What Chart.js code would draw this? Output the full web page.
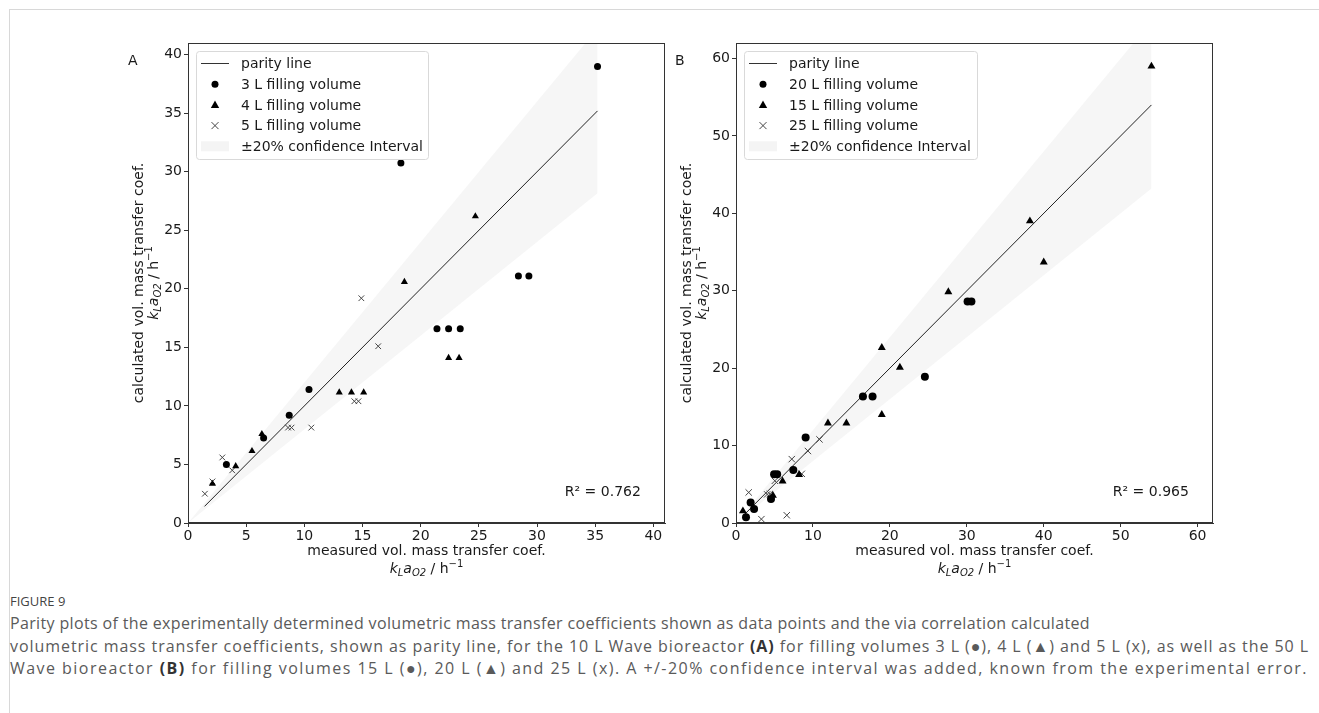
<!DOCTYPE html>
<html>
<head>
<meta charset="utf-8">
<script src="https://cdn.jsdelivr.net/npm/chart.js@4.4.0/dist/chart.umd.min.js"></script>
<style>
  body { margin: 0; background: #fff; width: 1319px; height: 713px; overflow: hidden; position: relative; }
  #frame { position: absolute; left: 9px; top: 9px; width: 1400px; height: 800px; border: 1.5px solid #d8d8d8; }
  #boxA { position: absolute; left: 0; top: 0; width: 670px; height: 590px; }
  #boxB { position: absolute; left: 670px; top: 0; width: 600px; height: 590px; }
  #cap { position: absolute; left: 10px; top: 591px; font-family: "Open Sans", sans-serif; color: #5a5a5a; white-space: nowrap; }
  #cap .fig { font-size: 13px; color: #444; height: 21px; line-height: 21px; }
  #cap .ln { font-size: 16px; line-height: 22.5px; height: 22.5px; display: table; }
  #cap b { color: #333; }
</style>
</head>
<body>
<div id="frame"></div>
<div id="boxA"><canvas id="chartA"></canvas></div>
<div id="boxB"><canvas id="chartB"></canvas></div>
<div id="cap">
  <div class="fig">FIGURE 9</div>
  <div class="ln" data-w="1080">Parity plots of the experimentally determined volumetric mass transfer coefficients shown as data points and the via correlation calculated</div>
  <div class="ln" data-w="1299">volumetric mass transfer coefficients, shown as parity line, for the 10 L Wave bioreactor <b>(A)</b> for filling volumes 3 L (&#9679;), 4 L (&#9650;) and 5 L (x), as well as the 50 L</div>
  <div class="ln" data-w="1298">Wave bioreactor <b>(B)</b> for filling volumes 15 L (&#9679;), 20 L (&#9650;) and 25 L (x). A +/-20% confidence interval was added, known from the experimental error.</div>
</div>
<script>
// panel A (10 L Wave bioreactor)
var a3x = [3.3, 6.5, 8.7, 10.4, 18.3, 21.4, 22.4, 23.4, 28.4, 29.3, 35.2];
var a3y = [5.0, 7.25, 9.2, 11.4, 30.75, 16.6, 16.6, 16.6, 21.1, 21.1, 39.0];
var a4x = [2.1, 4.1, 5.5, 6.35, 13.0, 14.05, 15.1, 18.6, 22.4, 23.3, 24.7];
var a4y = [3.35, 4.85, 6.15, 7.6, 11.15, 11.15, 11.15, 20.6, 14.1, 14.1, 26.2];
var a5x = [1.45, 2.1, 2.95, 3.8, 8.6, 8.9, 10.6, 14.3, 14.65, 14.9, 16.35];
var a5y = [2.5, 3.55, 5.6, 4.5, 8.15, 8.15, 8.15, 10.4, 10.4, 19.2, 15.1];
var parityA = [1.42, 35.2];
var ticksA = [0, 5, 10, 15, 20, 25, 30, 35, 40];
var limA = 41;

// panel B (50 L Wave bioreactor)
var b20x = [1.3, 1.9, 2.35, 4.55, 4.95, 5.35, 7.45, 9.05, 16.5, 17.75, 24.55, 30.1, 30.6];
var b20y = [0.75, 2.65, 1.8, 3.1, 6.3, 6.3, 6.85, 11.05, 16.35, 16.35, 18.9, 28.6, 28.6];
var b15x = [0.9, 4.8, 6.05, 8.2, 11.95, 14.35, 18.95, 18.95, 21.3, 27.6, 38.2, 40.0, 54.0];
var b15y = [1.55, 3.55, 5.4, 6.25, 12.9, 12.9, 22.65, 14.0, 20.1, 29.85, 39.0, 33.7, 59.0];
var b25x = [1.65, 3.3, 4.05, 4.4, 5.05, 6.6, 7.25, 8.55, 9.35, 10.85];
var b25y = [3.95, 0.5, 3.7, 3.75, 5.45, 1.0, 8.25, 6.35, 9.3, 10.8];
var parityB = [0.9, 54.0];
var ticksB = [0, 10, 20, 30, 40, 50, 60];
var limB = 62;

var FONT = '"DejaVu Sans", sans-serif';

// stretch caption lines to the widths of the original figure
document.querySelectorAll('#cap .ln').forEach(function (el) {
  var w = el.getBoundingClientRect().width;
  var n = el.textContent.length;
  el.style.letterSpacing = ((+el.dataset.w - w) / n) + 'px';
});

function pts(xs, ys) {
  return xs.map(function (x, i) { return { x: x, y: ys[i] }; });
}

function drawParts(ctx, parts, cx, y) {
  var w = 0;
  parts.forEach(function (p) { ctx.font = p.f; w += ctx.measureText(p.t).width; });
  var x = cx - w / 2;
  parts.forEach(function (p) {
    ctx.font = p.f;
    ctx.fillText(p.t, x, y + p.dy);
    x += ctx.measureText(p.t).width;
  });
}

var klaParts = [
  { t: 'k', f: 'italic 14px ' + FONT, dy: 0 },
  { t: 'L', f: 'italic 10px ' + FONT, dy: 3 },
  { t: 'a', f: 'italic 14px ' + FONT, dy: 0 },
  { t: 'O2', f: 'italic 10px ' + FONT, dy: 3 },
  { t: ' / h', f: '14px ' + FONT, dy: 0 },
  { t: '\u22121', f: '10px ' + FONT, dy: -6 }
];

function makeDecor(cfg) {
  return {
    id: 'decor',
    afterDraw: function (chart) {
      var ctx = chart.ctx, a = chart.chartArea;
      ctx.save();
      // spines
      ctx.strokeStyle = '#333';
      ctx.lineWidth = 1;
      ctx.strokeRect(a.left + 0.5, a.top + 0.5, a.right - a.left - 1, a.bottom - a.top - 1);
      ctx.fillStyle = '#1a1a1a';
      ctx.textBaseline = 'alphabetic';
      // panel letter
      ctx.font = '14px ' + FONT;
      ctx.textAlign = 'left';
      ctx.fillText(cfg.letter, cfg.letterX, 65);
      // R2
      ctx.fillText(cfg.r2, a.left + 0.79 * (a.right - a.left), a.bottom - 27);
      // x title
      var cx = (a.left + a.right) / 2;
      ctx.textAlign = 'center';
      ctx.fillText('measured vol. mass transfer coef.', cx, 555);
      ctx.textAlign = 'left';
      drawParts(ctx, klaParts, cx, 573);
      // y title
      var cy = (a.top + a.bottom) / 2;
      ctx.save();
      ctx.translate(a.left - 45, cy);
      ctx.rotate(-Math.PI / 2);
      ctx.textAlign = 'center';
      ctx.font = '14px ' + FONT;
      ctx.fillText('calculated vol. mass transfer coef.', 0, 0);
      ctx.restore();
      ctx.save();
      ctx.translate(a.left - 30, cy);
      ctx.rotate(-Math.PI / 2);
      ctx.textAlign = 'left';
      drawParts(ctx, klaParts, 0, 0);
      ctx.restore();
      // legend
      var lx = a.left + 8, ly = a.top + 8, lw = cfg.legendW, lh = 108;
      ctx.fillStyle = 'rgba(255,255,255,0.85)';
      ctx.strokeStyle = '#d9d9d9';
      ctx.beginPath();
      ctx.roundRect(lx + 0.5, ly + 0.5, lw, lh, 3);
      ctx.fill();
      ctx.stroke();
      var rows = cfg.legend;
      for (var i = 0; i < rows.length; i++) {
        var ry = ly + 12.5 + i * 20.7;
        var hx = lx + 19;
        ctx.fillStyle = '#000';
        ctx.strokeStyle = '#333';
        ctx.lineWidth = 1;
        ctx.beginPath();
        if (rows[i].kind === 'line') {
          ctx.moveTo(lx + 5, ry); ctx.lineTo(lx + 33, ry); ctx.stroke();
        } else if (rows[i].kind === 'band') {
          ctx.fillStyle = 'rgba(211,211,211,0.25)';
          ctx.fillRect(lx + 5, ry - 5, 28, 10);
        } else if (rows[i].kind === 'circle') {
          ctx.arc(hx, ry, 3.5, 0, Math.PI * 2); ctx.fill();
        } else if (rows[i].kind === 'triangle') {
          ctx.moveTo(hx, ry - 4.5); ctx.lineTo(hx + 4.2, ry + 3); ctx.lineTo(hx - 4.2, ry + 3); ctx.closePath(); ctx.fill();
        } else {
          ctx.strokeStyle = '#444';
          ctx.moveTo(hx - 3.5, ry - 3.5); ctx.lineTo(hx + 3.5, ry + 3.5);
          ctx.moveTo(hx + 3.5, ry - 3.5); ctx.lineTo(hx - 3.5, ry + 3.5); ctx.stroke();
        }
        ctx.fillStyle = '#1a1a1a';
        ctx.font = '14px ' + FONT;
        ctx.textAlign = 'left';
        ctx.textBaseline = 'middle';
        ctx.fillText(rows[i].label, lx + 45, ry + 1);
        ctx.textBaseline = 'alphabetic';
      }
      ctx.restore();
    }
  };
}

function makeChart(id, cfg) {
  var ctx = document.getElementById(id);
  var lo = cfg.parity[0], hi = cfg.parity[1];
  var step = cfg.ticks[1] - cfg.ticks[0];
  var axis = function (isX) {
    return {
      type: 'linear',
      min: 0,
      max: cfg.lim,
      grid: { display: true, drawOnChartArea: false, drawTicks: true, tickLength: 4, color: '#333' },
      border: { display: true, color: '#333' },
      ticks: {
        stepSize: step, includeBounds: false, color: '#1a1a1a', padding: isX ? 1 : 2,
        font: { family: FONT, size: 14 }, maxRotation: 0
      },
      afterFit: function (s) { if (isX) { s.height = 30; } else { s.width = 50; } }
    };
  };
  return new Chart(ctx, {
    type: 'scatter',
    data: {
      datasets: [
        { label: cfg.names[0], data: pts(cfg.s1[0], cfg.s1[1]), pointStyle: 'circle', pointRadius: cfg.r, backgroundColor: '#000', borderWidth: 0 },
        { label: cfg.names[1], data: pts(cfg.s2[0], cfg.s2[1]), pointStyle: 'triangle', pointRadius: cfg.r + 0.6, backgroundColor: '#000', borderWidth: 0 },
        { label: cfg.names[2], data: pts(cfg.s3[0], cfg.s3[1]), pointStyle: 'crossRot', pointRadius: cfg.r + 0.5, borderColor: '#444', backgroundColor: '#444', borderWidth: 1 },
        { type: 'line', label: 'parity line', data: [{ x: lo, y: lo }, { x: hi, y: hi }], borderColor: '#222', borderWidth: 1, pointRadius: 0, fill: false },
        { type: 'line', label: 'upper', data: [{ x: 0, y: 0 }, { x: hi, y: hi * 1.2 }], borderWidth: 0, borderColor: 'rgba(0,0,0,0)', pointRadius: 0, fill: false },
        { type: 'line', label: '\u00b120% confidence Interval', data: [{ x: 0, y: 0 }, { x: hi, y: hi * 0.8 }], borderWidth: 0, borderColor: 'rgba(0,0,0,0)', pointRadius: 0, fill: 4, backgroundColor: 'rgba(211,211,211,0.2)' }
      ]
    },
    options: {
      responsive: true,
      maintainAspectRatio: false,
      animation: false,
      layout: { padding: cfg.pad },
      plugins: { legend: { display: false }, tooltip: { enabled: false } },
      scales: { x: axis(true), y: axis(false) }
    },
    plugins: [makeDecor(cfg)]
  });
}

makeChart('chartA', {
  s1: [a3x, a3y], s2: [a4x, a4y], s3: [a5x, a5y],
  names: ['3 L filling volume', '4 L filling volume', '5 L filling volume'],
  parity: parityA, ticks: ticksA, lim: limA, r: 3.5,
  pad: { left: 138, top: 43, right: 4, bottom: 37 },
  letter: 'A', letterX: 128, r2: 'R\u00b2 = 0.762', legendW: 232,
  legend: [
    { kind: 'line', label: 'parity line' },
    { kind: 'circle', label: '3 L filling volume' },
    { kind: 'triangle', label: '4 L filling volume' },
    { kind: 'crossRot', label: '5 L filling volume' },
    { kind: 'band', label: '\u00b120% confidence Interval' }
  ]
});

makeChart('chartB', {
  s1: [b20x, b20y], s2: [b15x, b15y], s3: [b25x, b25y],
  names: ['20 L filling volume', '15 L filling volume', '25 L filling volume'],
  parity: parityB, ticks: ticksB, lim: limB, r: 4,
  pad: { left: 16, top: 43, right: 57, bottom: 37 },
  letter: 'B', letterX: 5, r2: 'R\u00b2 = 0.965', legendW: 233,
  legend: [
    { kind: 'line', label: 'parity line' },
    { kind: 'circle', label: '20 L filling volume' },
    { kind: 'triangle', label: '15 L filling volume' },
    { kind: 'crossRot', label: '25 L filling volume' },
    { kind: 'band', label: '\u00b120% confidence Interval' }
  ]
});
</script>
</body>
</html>
